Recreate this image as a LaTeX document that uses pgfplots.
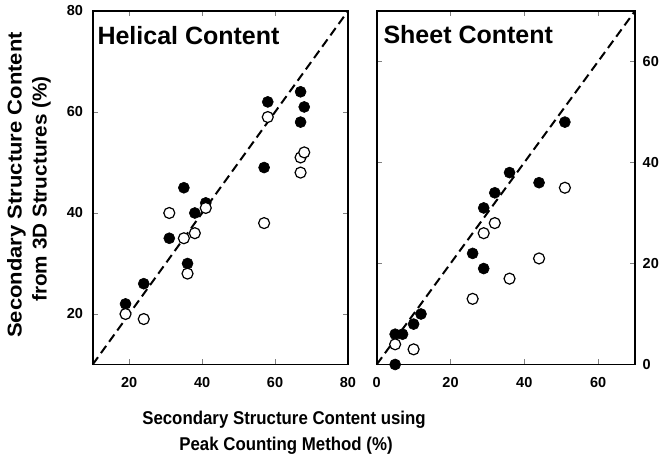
\documentclass[border=0pt]{standalone}
\usepackage{fontspec}
\setmainfont{Liberation Sans}
\usepackage{graphicx}
\usepackage{pgfplots}
\pgfplotsset{compat=1.18}

\pgfplotsset{
  panel/.style={
    scale only axis, height=353.5pt,
    anchor=south west, clip=false,
    axis line style={line width=1.8pt},
    tick align=inside,
    major tick length=5pt,
    tick style={gray, line width=0.6pt},
    ticklabel style={font=\fontsize{14.5}{14.5}\selectfont\bfseries, inner sep=0pt},
    /pgf/number format/assume math mode=true,
    xticklabel style={anchor=north, yshift=-13pt},
  },
  filled/.style={only marks, mark=*, mark size=5.5pt, mark options={fill=black, draw=black, line width=0.6pt}},
  open/.style={only marks, mark=*, mark size=5.5pt, mark options={fill=white, draw=black, line width=1.2pt}},
  diag/.style={black, line width=2pt, dash pattern=on 9pt off 5pt, no marks},
}

\begin{document}
\begin{tikzpicture}
\path[use as bounding box] (0,0) rectangle (664pt,462pt);

% helical
\begin{axis}[panel, at={(92.7pt,97.5pt)}, width=255.3pt,
  xmin=10, xmax=80, ymin=10, ymax=80,
  xtick={20,40,60,80}, ytick={20,40,60,80},
  tick pos=both, ticklabel pos=left,
  yticklabel style={anchor=east, xshift=-9.5pt},
  ]
  \addplot[filled] coordinates {(19,22) (24,26) (31,35) (35,45) (36,30) (38,40) (41,42) (57,49) (58,62) (67,64) (68,61) (67,58)};
  \addplot[open] coordinates {(19,20) (24,19) (31,40) (35,35) (36,28) (38,36) (41,41) (57,38) (58,59) (67,51) (68,52) (67,48)};
  \addplot[diag] coordinates {(10,10) (80,80)};
\end{axis}

% sheet
\begin{axis}[panel, at={(376.7pt,97.5pt)}, width=258.3pt,
  xmin=0, xmax=70, ymin=0, ymax=70,
  xtick={0,20,40,60}, ytick={0,20,40,60},
  yticklabel pos=right, xticklabel pos=left, tick pos=both,
  yticklabel pos=right,
  yticklabel style={anchor=west, xshift=7.5pt},
  ]
  \addplot[filled] coordinates {(5,6) (7,6) (5,0) (10,8) (12,10) (26,22) (29,31) (29,19) (32,34) (36,38) (44,36) (51,48)};
  \addplot[open] coordinates {(5,4) (10,3) (26,13) (29,26) (32,28) (36,17) (44,21) (51,35)};
  \addplot[diag] coordinates {(0,0) (70,70)};
\end{axis}

\begin{scope}[every node/.style={inner sep=0pt, font=\fontsize{25}{25}\selectfont\bfseries}]
  \node[anchor=base west] at (97.3pt,417.7pt) {Helical Content};
  \node[anchor=base west] at (383.3pt,418.7pt) {Sheet Content};
\end{scope}
\begin{scope}[every node/.style={inner sep=0pt, font=\fontsize{18.5}{18.5}\selectfont\bfseries}]
  \node[anchor=base] at (284pt,37pt) {\scalebox{0.91}[1]{Secondary Structure Content using}};
  \node[anchor=base] at (286pt,11.3pt) {\scalebox{0.91}[1]{Peak Counting Method (\%)}};
\end{scope}
\begin{scope}[every node/.style={inner sep=0pt, font=\fontsize{20}{20}\selectfont\bfseries}]
  \node[anchor=base, rotate=90] at (21.7pt,277pt) {\scalebox{1.1}[1]{Secondary Structure Content}};
  \node[anchor=base, rotate=90] at (46.7pt,273pt) {\scalebox{1.035}[1]{from 3D Structures (\%)}};
\end{scope}
\end{tikzpicture}
\end{document}
